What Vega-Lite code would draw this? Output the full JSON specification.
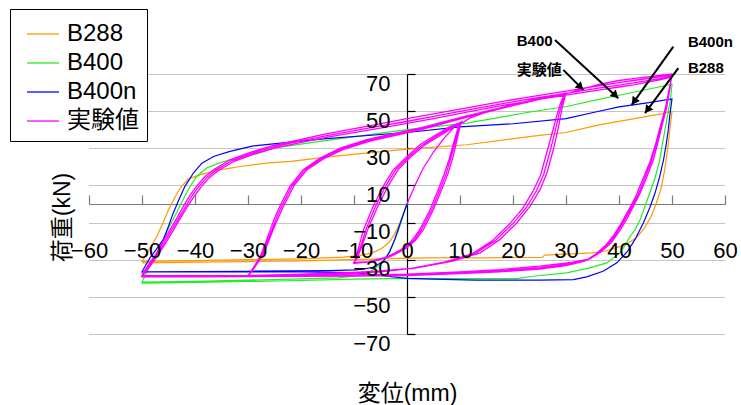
{
"$schema": "https://vega.github.io/schema/vega-lite/v6.json",
"width": 636, "height": 260,
"autosize": "none",
"padding": {"left": 89, "top": 74, "right": 16, "bottom": 71},
"background": "white",
"config": {"view": {"stroke": null}, "font": "Liberation Sans, Noto Sans CJK JP",
  "axis": {"labelFont": "Liberation Sans, Noto Sans CJK JP", "titleFont": "Liberation Sans, Noto Sans CJK JP", "labelColor": "black", "titleColor": "black"}},
"datasets": {
"curves": [
{"s":"B288","x":0,"y":0},{"s":"B288","x":-0.8,"y":-6},{"s":"B288","x":-1.6,"y":-12},{"s":"B288","x":-2.5,"y":-17},{"s":"B288","x":-3.5,"y":-21},{"s":"B288","x":-4.8,"y":-24},{"s":"B288","x":-6.5,"y":-26.3},{"s":"B288","x":-9,"y":-27.8},{"s":"B288","x":-12,"y":-28.6},{"s":"B288","x":-20,"y":-29.5},{"s":"B288","x":-30,"y":-30},{"s":"B288","x":-40,"y":-30.5},{"s":"B288","x":-50,"y":-30.9},
{"s":"B288","x":-49,"y":-26},{"s":"B288","x":-48,"y":-21.5},{"s":"B288","x":-47.2,"y":-17.4},{"s":"B288","x":-46,"y":-10},{"s":"B288","x":-45,"y":-3.1},{"s":"B288","x":-43.8,"y":3.5},{"s":"B288","x":-42.8,"y":8.6},{"s":"B288","x":-41.3,"y":13.4},{"s":"B288","x":-39,"y":15.8},{"s":"B288","x":-35.3,"y":18.4},{"s":"B288","x":-31.5,"y":20.2},{"s":"B288","x":-26.5,"y":22},{"s":"B288","x":-22,"y":23},{"s":"B288","x":-12.6,"y":26},{"s":"B288","x":0,"y":29.5},{"s":"B288","x":11.3,"y":31.9},{"s":"B288","x":23.8,"y":36.5},{"s":"B288","x":30,"y":38.5},{"s":"B288","x":36,"y":42.5},{"s":"B288","x":40,"y":44.5},{"s":"B288","x":45,"y":47},{"s":"B288","x":48,"y":48.5},{"s":"B288","x":50,"y":49.8},
{"s":"B288","x":49.6,"y":40},{"s":"B288","x":49.2,"y":30},{"s":"B288","x":48.6,"y":18},{"s":"B288","x":47.9,"y":8},{"s":"B288","x":47,"y":0},{"s":"B288","x":46,"y":-7},{"s":"B288","x":44.8,"y":-13},{"s":"B288","x":43.3,"y":-18},{"s":"B288","x":41.5,"y":-21.5},{"s":"B288","x":39.6,"y":-23.5},{"s":"B288","x":37.5,"y":-25.3},{"s":"B288","x":35,"y":-26.3},{"s":"B288","x":30,"y":-27},{"s":"B288","x":26,"y":-27.5},{"s":"B288","x":25.5,"y":-28.8},{"s":"B288","x":15,"y":-29},{"s":"B288","x":5,"y":-29},{"s":"B288","x":0,"y":-29.1},{"s":"B288","x":-10,"y":-30},{"s":"B288","x":-20,"y":-30.6},{"s":"B288","x":-30,"y":-31},{"s":"B288","x":-40,"y":-31.3},{"s":"B288","x":-50,"y":-31.7},
{"s":"B400","x":0,"y":0},{"s":"B400","x":-0.8,"y":-7},{"s":"B400","x":-1.7,"y":-15},{"s":"B400","x":-2.7,"y":-22},{"s":"B400","x":-3.8,"y":-28},{"s":"B400","x":-5.2,"y":-33},{"s":"B400","x":-7,"y":-36.5},{"s":"B400","x":-9.5,"y":-38.6},{"s":"B400","x":-13,"y":-39.8},{"s":"B400","x":-20,"y":-40.3},{"s":"B400","x":-30,"y":-41},{"s":"B400","x":-40,"y":-41.6},{"s":"B400","x":-50,"y":-42.1},
{"s":"B400","x":-49.3,"y":-38},{"s":"B400","x":-48.5,"y":-33.5},{"s":"B400","x":-47.2,"y":-26},{"s":"B400","x":-46,"y":-19.2},{"s":"B400","x":-44.8,"y":-12},{"s":"B400","x":-43.5,"y":-4.8},{"s":"B400","x":-42.3,"y":2},{"s":"B400","x":-41.3,"y":7.7},{"s":"B400","x":-39.7,"y":14.8},{"s":"B400","x":-37.8,"y":19.4},{"s":"B400","x":-35.5,"y":22},{"s":"B400","x":-33.4,"y":23.8},{"s":"B400","x":-28.4,"y":27},{"s":"B400","x":-25.2,"y":30.1},{"s":"B400","x":-15.8,"y":34},{"s":"B400","x":-8,"y":37},{"s":"B400","x":0,"y":40},{"s":"B400","x":11.3,"y":43.5},{"s":"B400","x":23.8,"y":49.8},{"s":"B400","x":30.1,"y":52.5},{"s":"B400","x":36.4,"y":56.5},{"s":"B400","x":39.6,"y":58.3},{"s":"B400","x":45,"y":61.5},{"s":"B400","x":50,"y":64.5},
{"s":"B400","x":49.7,"y":56},{"s":"B400","x":49,"y":45.3},{"s":"B400","x":48.3,"y":34},{"s":"B400","x":47.7,"y":23.8},{"s":"B400","x":46.8,"y":14},{"s":"B400","x":45.8,"y":5.9},{"s":"B400","x":44.8,"y":-2},{"s":"B400","x":44,"y":-8.4},{"s":"B400","x":43,"y":-14},{"s":"B400","x":42.1,"y":-17.4},{"s":"B400","x":41.2,"y":-22},{"s":"B400","x":40.2,"y":-26.3},{"s":"B400","x":37.7,"y":-31.7},{"s":"B400","x":34.5,"y":-34.4},{"s":"B400","x":30.1,"y":-37.1},{"s":"B400","x":23.8,"y":-38.9},{"s":"B400","x":20.7,"y":-40.2},{"s":"B400","x":10,"y":-40.2},{"s":"B400","x":0,"y":-40},{"s":"B400","x":-10,"y":-40.5},{"s":"B400","x":-20,"y":-41.2},{"s":"B400","x":-30,"y":-41.7},{"s":"B400","x":-40,"y":-42.2},{"s":"B400","x":-50,"y":-42.6},
{"s":"B400n","x":0,"y":0},{"s":"B400n","x":-1,"y":-8},{"s":"B400n","x":-2.3,"y":-19},{"s":"B400n","x":-3.3,"y":-26},{"s":"B400n","x":-4.5,"y":-31},{"s":"B400n","x":-6.5,"y":-34.2},{"s":"B400n","x":-9.5,"y":-35.5},{"s":"B400n","x":-15,"y":-35.9},{"s":"B400n","x":-30,"y":-36.2},{"s":"B400n","x":-50,"y":-36.5},
{"s":"B400n","x":-49.3,"y":-33},{"s":"B400n","x":-48.5,"y":-29},{"s":"B400n","x":-47.2,"y":-24},{"s":"B400n","x":-46,"y":-19.2},{"s":"B400n","x":-45,"y":-12},{"s":"B400n","x":-44.1,"y":-4.8},{"s":"B400n","x":-43,"y":2.5},{"s":"B400n","x":-41.9,"y":9.5},{"s":"B400n","x":-40.3,"y":16.7},{"s":"B400n","x":-38.7,"y":22},{"s":"B400n","x":-36.5,"y":25.6},{"s":"B400n","x":-33.4,"y":28.3},{"s":"B400n","x":-29,"y":31.3},{"s":"B400n","x":-25.2,"y":32.4},{"s":"B400n","x":-15.8,"y":35.1},{"s":"B400n","x":0,"y":38.5},{"s":"B400n","x":10,"y":41.5},{"s":"B400n","x":20,"y":43.2},{"s":"B400n","x":30,"y":46},{"s":"B400n","x":36,"y":49.8},{"s":"B400n","x":40,"y":52.3},{"s":"B400n","x":45,"y":54.3},{"s":"B400n","x":50,"y":56.6},
{"s":"B400n","x":49.6,"y":48},{"s":"B400n","x":49.3,"y":40},{"s":"B400n","x":48.9,"y":32},{"s":"B400n","x":48.4,"y":23.8},{"s":"B400n","x":47.7,"y":15},{"s":"B400n","x":46.8,"y":5.9},{"s":"B400n","x":45.8,"y":-2},{"s":"B400n","x":44.6,"y":-10.2},{"s":"B400n","x":43,"y":-19.2},{"s":"B400n","x":41.6,"y":-25.5},{"s":"B400n","x":39.6,"y":-31.7},{"s":"B400n","x":37,"y":-36.2},{"s":"B400n","x":33.9,"y":-39.2},{"s":"B400n","x":31.4,"y":-40.7},{"s":"B400n","x":25,"y":-41},{"s":"B400n","x":13,"y":-41},{"s":"B400n","x":5,"y":-40.5},{"s":"B400n","x":0,"y":-40},{"s":"B400n","x":-5,"y":-38.5},{"s":"B400n","x":-10,"y":-37},{"s":"B400n","x":-20,"y":-36.6},{"s":"B400n","x":-30,"y":-36.5},{"s":"B400n","x":-40,"y":-36.5},{"s":"B400n","x":-50,"y":-36.6},
{"s":"実験値","x":0,"y":0},{"s":"実験値","x":1.5,"y":10},{"s":"実験値","x":3,"y":19},{"s":"実験値","x":5,"y":28},{"s":"実験値","x":7,"y":35.5},{"s":"実験値","x":8.8,"y":41},{"s":"実験値","x":10.3,"y":44.4},
{"s":"実験値","x":10,"y":41.7},{"s":"実験値","x":9.4,"y":34},{"s":"実験値","x":8.7,"y":25.6},{"s":"実験値","x":7.8,"y":17},{"s":"実験値","x":6.8,"y":9.5},{"s":"実験値","x":5,"y":-3},{"s":"実験値","x":3.1,"y":-13.8},{"s":"実験値","x":1.6,"y":-19.5},{"s":"実験値","x":0,"y":-23.5},{"s":"実験値","x":-1.5,"y":-26},{"s":"実験値","x":-3.2,"y":-28.4},{"s":"実験値","x":-6.4,"y":-31},{"s":"実験値","x":-9.5,"y":-31.8},{"s":"実験値","x":-10,"y":-32},
{"s":"実験値","x":-9.8,"y":-30},{"s":"実験値","x":-9,"y":-22},{"s":"実験値","x":-8.2,"y":-13.8},{"s":"実験値","x":-6.4,"y":-1.3},{"s":"実験値","x":-4.5,"y":9.5},{"s":"実験値","x":-2.6,"y":18.4},{"s":"実験値","x":0,"y":25.6},{"s":"実験値","x":2.5,"y":32},{"s":"実験値","x":5,"y":36.5},{"s":"実験値","x":8,"y":41.5},{"s":"実験値","x":10.2,"y":44},
{"s":"実験値","x":9.8,"y":41.3},{"s":"実験値","x":9.1,"y":33.5},{"s":"実験値","x":8.3,"y":25},{"s":"実験値","x":7.4,"y":16.5},{"s":"実験値","x":6.4,"y":9},{"s":"実験値","x":4.6,"y":-3.5},{"s":"実験値","x":2.7,"y":-14},{"s":"実験値","x":1.2,"y":-19.8},{"s":"実験値","x":-0.4,"y":-23.8},{"s":"実験値","x":-2,"y":-26.3},{"s":"実験値","x":-3.7,"y":-28.6},{"s":"実験値","x":-6.8,"y":-31},{"s":"実験値","x":-9.6,"y":-31.6},{"s":"実験値","x":-10,"y":-31.6},
{"s":"実験値","x":-9.6,"y":-29.6},{"s":"実験値","x":-8.6,"y":-21.5},{"s":"実験値","x":-7.7,"y":-13.5},{"s":"実験値","x":-5.9,"y":-1},{"s":"実験値","x":-4,"y":9.8},{"s":"実験値","x":-2.1,"y":18.6},{"s":"実験値","x":0.4,"y":25.6},{"s":"実験値","x":2.9,"y":31.8},{"s":"実験値","x":5.4,"y":36.3},{"s":"実験値","x":8.3,"y":41.2},{"s":"実験値","x":10.2,"y":43.6},
{"s":"実験値","x":9.6,"y":40.8},{"s":"実験値","x":8.8,"y":33},{"s":"実験値","x":8,"y":24.5},{"s":"実験値","x":7,"y":16},{"s":"実験値","x":6,"y":8.5},{"s":"実験値","x":4.2,"y":-4},{"s":"実験値","x":2.3,"y":-14.3},{"s":"実験値","x":0.8,"y":-20},{"s":"実験値","x":-0.8,"y":-24},{"s":"実験値","x":-2.4,"y":-26.5},{"s":"実験値","x":-4.1,"y":-28.8},{"s":"実験値","x":-7.2,"y":-31},{"s":"実験値","x":-9.7,"y":-31.4},{"s":"実験値","x":-10,"y":-31.4},
{"s":"実験値","x":-9.4,"y":-29.2},{"s":"実験値","x":-8.3,"y":-21},{"s":"実験値","x":-7.3,"y":-13},{"s":"実験値","x":-5.4,"y":-0.6},{"s":"実験値","x":-3.5,"y":10},{"s":"実験値","x":-1.6,"y":18.8},{"s":"実験値","x":0.8,"y":25.6},{"s":"実験値","x":3.3,"y":31.6},{"s":"実験値","x":5.8,"y":36.1},{"s":"実験値","x":8.6,"y":41},{"s":"実験値","x":10.2,"y":43.3},
{"s":"実験値","x":12,"y":46.5},{"s":"実験値","x":15,"y":49.5},{"s":"実験値","x":20,"y":53.5},{"s":"実験値","x":25,"y":57},{"s":"実験値","x":30,"y":59.7},
{"s":"実験値","x":29.5,"y":54.3},{"s":"実験値","x":29,"y":48},{"s":"実験値","x":28.6,"y":41.7},{"s":"実験値","x":27.6,"y":29.2},{"s":"実験値","x":26.4,"y":16.7},{"s":"実験値","x":25.1,"y":7.7},{"s":"実験値","x":23.2,"y":-1.3},{"s":"実験値","x":20.7,"y":-10.2},{"s":"実験値","x":17.5,"y":-19.2},{"s":"実験値","x":13.8,"y":-26.3},{"s":"実験値","x":8.7,"y":-30.8},{"s":"実験値","x":1.8,"y":-34.4},{"s":"実験値","x":-5,"y":-36},{"s":"実験値","x":-10,"y":-36.8},{"s":"実験値","x":-20,"y":-37.8},{"s":"実験値","x":-30,"y":-38.5},
{"s":"実験値","x":-29.6,"y":-37},{"s":"実験値","x":-28.7,"y":-33},{"s":"実験値","x":-27.7,"y":-28.2},{"s":"実験値","x":-26.7,"y":-21},{"s":"実験値","x":-25.8,"y":-13.8},{"s":"実験値","x":-24.9,"y":-7},{"s":"実験値","x":-24,"y":-1.3},{"s":"実験値","x":-22.1,"y":9.5},{"s":"実験値","x":-19.6,"y":18.4},{"s":"実験値","x":-16.4,"y":24.7},{"s":"実験値","x":-12.6,"y":30.1},{"s":"実験値","x":-7.6,"y":34.6},{"s":"実験値","x":-3.2,"y":37.5},{"s":"実験値","x":2.5,"y":41},{"s":"実験値","x":11.3,"y":47.5},{"s":"実験値","x":20,"y":53.5},{"s":"実験値","x":25,"y":57},{"s":"実験値","x":29.8,"y":59.5},
{"s":"実験値","x":29.2,"y":54},{"s":"実験値","x":28.6,"y":47.5},{"s":"実験値","x":28.1,"y":41},{"s":"実験値","x":27,"y":28.5},{"s":"実験値","x":25.8,"y":16},{"s":"実験値","x":24.4,"y":7},{"s":"実験値","x":22.5,"y":-2},{"s":"実験値","x":19.9,"y":-10.8},{"s":"実験値","x":16.7,"y":-19.6},{"s":"実験値","x":12.9,"y":-26.6},{"s":"実験値","x":7.9,"y":-31},{"s":"実験値","x":1.2,"y":-34.6},{"s":"実験値","x":-5,"y":-36.3},{"s":"実験値","x":-10,"y":-37.1},{"s":"実験値","x":-20,"y":-38},{"s":"実験値","x":-30,"y":-38.6},
{"s":"実験値","x":-29.5,"y":-36.9},{"s":"実験値","x":-28.5,"y":-32.6},{"s":"実験値","x":-27.4,"y":-27.6},{"s":"実験値","x":-26.4,"y":-20.4},{"s":"実験値","x":-25.4,"y":-13.2},{"s":"実験値","x":-24.5,"y":-6.6},{"s":"実験値","x":-23.6,"y":-1},{"s":"実験値","x":-21.7,"y":9.8},{"s":"実験値","x":-19.2,"y":18.5},{"s":"実験値","x":-16,"y":24.6},{"s":"実験値","x":-12.2,"y":29.8},{"s":"実験値","x":-7.3,"y":34.2},{"s":"実験値","x":-3,"y":37},{"s":"実験値","x":2.6,"y":40.5},{"s":"実験値","x":11.4,"y":47.2},{"s":"実験値","x":20,"y":53.2},{"s":"実験値","x":25,"y":56.7},{"s":"実験値","x":29.7,"y":59.2},
{"s":"実験値","x":28.9,"y":53.7},{"s":"実験値","x":28.2,"y":47},{"s":"実験値","x":27.6,"y":40.5},{"s":"実験値","x":26.4,"y":28},{"s":"実験値","x":25.2,"y":15.5},{"s":"実験値","x":23.7,"y":6.5},{"s":"実験値","x":21.8,"y":-2.5},{"s":"実験値","x":19.2,"y":-11.2},{"s":"実験値","x":16,"y":-20},{"s":"実験値","x":12.2,"y":-26.9},{"s":"実験値","x":7.2,"y":-31.2},{"s":"実験値","x":0.6,"y":-34.8},{"s":"実験値","x":-5,"y":-36.5},{"s":"実験値","x":-10,"y":-37.3},{"s":"実験値","x":-20,"y":-38.2},{"s":"実験値","x":-30,"y":-38.7},
{"s":"実験値","x":-29.4,"y":-36.8},{"s":"実験値","x":-28.3,"y":-32.3},{"s":"実験値","x":-27.1,"y":-27.2},{"s":"実験値","x":-26.1,"y":-20},{"s":"実験値","x":-25.1,"y":-12.8},{"s":"実験値","x":-24.1,"y":-6.2},{"s":"実験値","x":-23.2,"y":-0.7},{"s":"実験値","x":-21.3,"y":10},{"s":"実験値","x":-18.8,"y":18.6},{"s":"実験値","x":-15.6,"y":24.5},{"s":"実験値","x":-11.8,"y":29.6},{"s":"実験値","x":-7,"y":33.9},{"s":"実験値","x":-2.8,"y":36.6},{"s":"実験値","x":2.7,"y":40.1},{"s":"実験値","x":11.5,"y":46.9},{"s":"実験値","x":20,"y":53},{"s":"実験値","x":25,"y":56.4},{"s":"実験値","x":29.6,"y":59},
{"s":"実験値","x":33,"y":61.8},{"s":"実験値","x":36.4,"y":64.5},{"s":"実験値","x":40,"y":66.5},{"s":"実験値","x":42.7,"y":67.5},{"s":"実験値","x":47.7,"y":69.2},{"s":"実験値","x":50,"y":70},
{"s":"実験値","x":49.6,"y":62},{"s":"実験値","x":49,"y":52},{"s":"実験値","x":48.4,"y":45.3},{"s":"実験値","x":47.5,"y":35},{"s":"実験値","x":46.5,"y":23.8},{"s":"実験値","x":45.3,"y":15},{"s":"実験値","x":44,"y":5.9},{"s":"実験値","x":42.7,"y":-1.3},{"s":"実験値","x":41.5,"y":-8},{"s":"実験値","x":40,"y":-15},{"s":"実験値","x":38.5,"y":-21},{"s":"実験値","x":36.5,"y":-26},{"s":"実験値","x":34.5,"y":-29.5},{"s":"実験値","x":31,"y":-31.5},{"s":"実験値","x":25,"y":-33.5},{"s":"実験値","x":17.5,"y":-35.3},{"s":"実験値","x":10,"y":-36.5},{"s":"実験値","x":0,"y":-37.8},{"s":"実験値","x":-10,"y":-38.2},{"s":"実験値","x":-20,"y":-38.4},{"s":"実験値","x":-30,"y":-38.5},{"s":"実験値","x":-40,"y":-38.6},{"s":"実験値","x":-50,"y":-38.6},
{"s":"実験値","x":-49.8,"y":-37},{"s":"実験値","x":-48.5,"y":-31.5},{"s":"実験値","x":-47.2,"y":-26.3},{"s":"実験値","x":-46,"y":-20},{"s":"実験値","x":-44.7,"y":-13.8},{"s":"実験値","x":-43.4,"y":-7.5},{"s":"実験値","x":-42.2,"y":-1.3},{"s":"実験値","x":-41,"y":4.5},{"s":"実験値","x":-39.7,"y":9.5},{"s":"実験値","x":-38.2,"y":14.5},{"s":"実験値","x":-36.5,"y":18.4},{"s":"実験値","x":-33.4,"y":23.8},{"s":"実験値","x":-29.6,"y":27.8},{"s":"実験値","x":-25.2,"y":31.5},{"s":"実験値","x":-20,"y":34.8},{"s":"実験値","x":-15.8,"y":37.5},{"s":"実験値","x":-6.4,"y":42.5},{"s":"実験値","x":0,"y":46},{"s":"実験値","x":5,"y":48.5},{"s":"実験値","x":11.3,"y":51.8},{"s":"実験値","x":17.5,"y":55},{"s":"実験値","x":23.8,"y":58},{"s":"実験値","x":30,"y":60.8},{"s":"実験値","x":36.4,"y":63.8},{"s":"実験値","x":40,"y":65.3},{"s":"実験値","x":42.7,"y":66.5},{"s":"実験値","x":47.7,"y":68.5},{"s":"実験値","x":50,"y":69.5},
{"s":"実験値","x":49.5,"y":61.5},{"s":"実験値","x":48.9,"y":51.5},{"s":"実験値","x":48.2,"y":44.5},{"s":"実験値","x":47.2,"y":34},{"s":"実験値","x":46.1,"y":23},{"s":"実験値","x":44.9,"y":14.2},{"s":"実験値","x":43.6,"y":5},{"s":"実験値","x":42.3,"y":-2},{"s":"実験値","x":41,"y":-8.8},{"s":"実験値","x":39.5,"y":-15.8},{"s":"実験値","x":38,"y":-21.6},{"s":"実験値","x":36,"y":-26.6},{"s":"実験値","x":34,"y":-30.2},{"s":"実験値","x":30.5,"y":-32.4},{"s":"実験値","x":25,"y":-34.3},{"s":"実験値","x":17.5,"y":-36},{"s":"実験値","x":10,"y":-37},{"s":"実験値","x":0,"y":-38.2},{"s":"実験値","x":-10,"y":-38.5},{"s":"実験値","x":-20,"y":-38.7},{"s":"実験値","x":-30,"y":-38.8},{"s":"実験値","x":-40,"y":-38.9},{"s":"実験値","x":-50,"y":-38.9},
{"s":"実験値","x":-49.7,"y":-37.3},{"s":"実験値","x":-48.3,"y":-31.8},{"s":"実験値","x":-47,"y":-26.5},{"s":"実験値","x":-45.7,"y":-20.2},{"s":"実験値","x":-44.4,"y":-14},{"s":"実験値","x":-43.1,"y":-7.7},{"s":"実験値","x":-41.8,"y":-1.5},{"s":"実験値","x":-40.6,"y":4.3},{"s":"実験値","x":-39.3,"y":9.3},{"s":"実験値","x":-37.8,"y":14.2},{"s":"実験値","x":-36.1,"y":18.1},{"s":"実験値","x":-33,"y":23.4},{"s":"実験値","x":-29.2,"y":27.4},{"s":"実験値","x":-24.8,"y":31},{"s":"実験値","x":-19.6,"y":34.2},{"s":"実験値","x":-15.4,"y":36.7},{"s":"実験値","x":-6,"y":41.5},{"s":"実験値","x":0.4,"y":44.7},{"s":"実験値","x":5,"y":47.2},{"s":"実験値","x":11.5,"y":50.7},{"s":"実験値","x":17.5,"y":53.8},{"s":"実験値","x":23.8,"y":56.8},{"s":"実験値","x":30,"y":59.6},{"s":"実験値","x":36.4,"y":62.5},{"s":"実験値","x":40,"y":64},{"s":"実験値","x":42.7,"y":65.2},{"s":"実験値","x":47.7,"y":67.5},{"s":"実験値","x":50,"y":69},
{"s":"実験値","x":49.4,"y":61},{"s":"実験値","x":48.7,"y":51},{"s":"実験値","x":48,"y":44},{"s":"実験値","x":47,"y":33.3},{"s":"実験値","x":45.8,"y":22.3},{"s":"実験値","x":44.5,"y":13.5},{"s":"実験値","x":43.2,"y":4.3},{"s":"実験値","x":41.9,"y":-2.7},{"s":"実験値","x":40.6,"y":-9.5},{"s":"実験値","x":39.1,"y":-16.5},{"s":"実験値","x":37.5,"y":-22.2},{"s":"実験値","x":35.5,"y":-27.2},{"s":"実験値","x":33.5,"y":-30.8},{"s":"実験値","x":30,"y":-33.2},{"s":"実験値","x":25,"y":-35},{"s":"実験値","x":17.5,"y":-36.6},{"s":"実験値","x":10,"y":-37.5},{"s":"実験値","x":0,"y":-38.5},{"s":"実験値","x":-10,"y":-38.8},{"s":"実験値","x":-20,"y":-39},{"s":"実験値","x":-30,"y":-39.1},{"s":"実験値","x":-40,"y":-39.2},{"s":"実験値","x":-50,"y":-39.2},
{"s":"実験値","x":-49.6,"y":-37.6},{"s":"実験値","x":-48.1,"y":-32},{"s":"実験値","x":-46.8,"y":-26.7},{"s":"実験値","x":-45.4,"y":-20.4},{"s":"実験値","x":-44.1,"y":-14.2},{"s":"実験値","x":-42.8,"y":-7.9},{"s":"実験値","x":-41.5,"y":-1.7},{"s":"実験値","x":-40.2,"y":4},{"s":"実験値","x":-38.9,"y":9},{"s":"実験値","x":-37.4,"y":13.9},{"s":"実験値","x":-35.7,"y":17.8},{"s":"実験値","x":-32.6,"y":23},{"s":"実験値","x":-28.8,"y":27},{"s":"実験値","x":-24.4,"y":30.5},{"s":"実験値","x":-19.2,"y":33.6},{"s":"実験値","x":-15,"y":36},{"s":"実験値","x":-5.6,"y":40.6},{"s":"実験値","x":0.8,"y":43.8},{"s":"実験値","x":5.5,"y":46.3},{"s":"実験値","x":11.8,"y":49.8},{"s":"実験値","x":17.5,"y":52.8},{"s":"実験値","x":23.8,"y":55.8},{"s":"実験値","x":30,"y":58.6},{"s":"実験値","x":36.4,"y":61.5},{"s":"実験値","x":40,"y":63},{"s":"実験値","x":42.7,"y":64.2},{"s":"実験値","x":47.7,"y":66.8},{"s":"実験値","x":50,"y":68.5}
],
"notes": [
{"label":"B400","tx":20.7,"ty":87.8,"x":27.92,"y":88.33,"x2":39.87,"y2":56.99,"hx":39.34,"hy":58.44},
{"label":"実験値","tx":20.7,"ty":72.2,"x":29.49,"y":72.2,"x2":33.26,"y2":61.45,"hx":32.74,"hy":62.96},
{"label":"B400n","tx":53.0,"ty":87.0,"x":50.25,"y":84.73,"x2":42.4,"y2":53.39,"hx":42.83,"hy":55.16},
{"label":"B288","tx":53.0,"ty":73.5,"x":51.19,"y":73.12,"x2":44.91,"y2":48.92,"hx":45.36,"hy":50.65}
]
},
"layer": [
{
"data": {"name": "curves"},
"transform": [{"window": [{"op": "row_number", "as": "i"}]}],
"mark": {"type": "line", "interpolate": "linear"},
"encoding": {
 "x": {"field": "x", "type": "quantitative", "scale": {"domain": [-60, 60], "nice": false, "zero": false},
   "axis": {"orient": "bottom", "title": "変位(mm)", "titleFontSize": 23, "titleFontWeight": "normal", "titleX": 318, "titleY": 59, "titleAlign": "center", "titleBaseline": "middle", "domain": false, "ticks": false, "labels": false, "grid": false}},
 "y": {"field": "y", "type": "quantitative", "scale": {"domain": [-70, 70], "nice": false, "zero": false},
   "axis": {"orient": "left", "title": "荷重(kN)", "titleFontSize": 23, "titleFontWeight": "normal", "titleAngle": -90, "titleX": -27, "titleY": 143, "titleAlign": "center", "titleBaseline": "middle", "domain": false, "ticks": false, "labels": false, "grid": true, "gridColor": "#8a8a8a", "gridDash": [1, 1], "gridWidth": 1, "values": [-70, -50, -30, -10, 10, 30, 50, 70]}},
 "color": {"field": "s", "type": "nominal",
   "scale": {"domain": ["B288", "B400", "B400n", "実験値"], "range": ["#ff9900", "#22ee22", "#0000ff", "#ff00ff"]},
   "legend": {"title": null, "orient": "none", "legendX": -79, "legendY": -65, "direction": "vertical", "fillColor": "white", "strokeColor": "black", "padding": 8, "labelFontSize": 24, "labelFont": "Liberation Sans, Noto Sans CJK JP", "labelColor": "black", "symbolType": "stroke", "symbolSize": 1024, "symbolStrokeWidth": 1.3, "labelOffset": 7, "symbolOffset": 8, "rowPadding": 0, "labelLimit": 300}},
 "order": {"field": "i", "type": "quantitative"},
 "strokeWidth": {"condition": {"test": "datum.s === '実験値'", "value": 1.3}, "value": 1.2}
}
},
{
"data": {"name": "notes"},
"mark": {"type": "rule", "color": "black", "strokeWidth": 2},
"encoding": {
 "x": {"field": "x", "type": "quantitative", "scale": {"domain": [-60, 60], "nice": false, "zero": false},
   "axis": {"orient": "bottom", "offset": -130, "title": null, "domain": true, "domainColor": "#7a7a7a", "domainWidth": 1.2, "ticks": true, "tickColor": "#7a7a7a", "tickSize": -9, "tickWidth": 1.2, "labels": false, "grid": false, "values": [-60, -50, -40, -30, -20, -10, 0, 10, 20, 30, 40, 50, 60]}},
 "y": {"field": "y", "type": "quantitative", "scale": {"domain": [-70, 70], "nice": false, "zero": false},
   "axis": {"orient": "left", "offset": -318, "title": null, "domain": true, "domainColor": "black", "domainWidth": 1.2, "ticks": true, "tickColor": "black", "tickSize": -8, "tickWidth": 1.2, "labels": false, "grid": false, "values": [-70, -50, -30, -10, 10, 30, 50, 70]}},
 "x2": {"field": "x2"},
 "y2": {"field": "y2"}
}
},
{
"data": {"name": "notes"},
"transform": [{"filter": "datum.label === 'B400' || datum.label === '実験値'"}],
"mark": {"type": "point", "shape": "triangle-up", "filled": true, "color": "black", "opacity": 1, "size": 80, "angle": 134},
"encoding": {
 "x": {"field": "hx", "type": "quantitative", "scale": {"domain": [-60, 60], "nice": false, "zero": false},
   "axis": {"orient": "bottom", "offset": -130, "title": null, "domain": false, "ticks": false, "tickSize": 0, "labels": true, "labelPadding": 36, "labelFontSize": 22, "labelFlush": false, "labelOverlap": false, "labelBaseline": "top", "grid": false, "zindex": 1, "values": [-60, -50, -40, -30, -20, -10, 0, 10, 20, 30, 40, 50, 60]}},
 "y": {"field": "hy", "type": "quantitative", "scale": {"domain": [-70, 70], "nice": false, "zero": false},
   "axis": {"orient": "left", "offset": -318, "title": null, "domain": false, "ticks": false, "tickSize": 0, "labels": true, "labelPadding": 17, "labelOffset": 9, "labelFontSize": 22, "labelFlush": false, "labelOverlap": false, "grid": false, "zindex": 1, "values": [-70, -50, -30, -10, 10, 30, 50, 70]}}
}
},
{
"data": {"name": "notes"},
"transform": [{"filter": "datum.label === 'B400n' || datum.label === 'B288'"}],
"mark": {"type": "point", "shape": "triangle-up", "filled": true, "color": "black", "opacity": 1, "size": 80, "angle": 216},
"encoding": {
 "x": {"field": "hx", "type": "quantitative", "scale": {"domain": [-60, 60], "nice": false, "zero": false}, "axis": null},
 "y": {"field": "hy", "type": "quantitative", "scale": {"domain": [-70, 70], "nice": false, "zero": false}, "axis": null}
}
},
{
"data": {"name": "notes"},
"mark": {"type": "text", "align": "left", "baseline": "middle", "fontSize": 15, "fontWeight": "bold", "color": "black", "font": "Liberation Sans, Noto Sans CJK JP"},
"encoding": {
 "x": {"field": "tx", "type": "quantitative", "scale": {"domain": [-60, 60], "nice": false, "zero": false}, "axis": null},
 "y": {"field": "ty", "type": "quantitative", "scale": {"domain": [-70, 70], "nice": false, "zero": false}, "axis": null},
 "text": {"field": "label"}
}
}
],
"resolve": {"axis": {"x": "independent", "y": "independent"}}
}
